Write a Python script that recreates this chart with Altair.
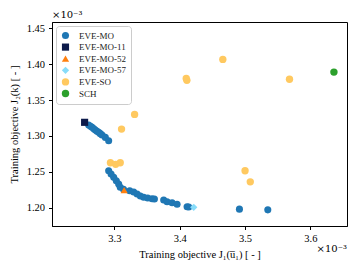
import altair as alt
import pandas as pd

# values in units of 1e-3
mo_x = [3.2607, 3.2635, 3.2659, 3.2685, 3.2709, 3.2735, 3.276, 3.2785, 3.2812, 3.2862, 3.2913,
        3.2913, 3.295, 3.299, 3.303, 3.3066, 3.309, 3.314, 3.3235, 3.3296, 3.3348, 3.3398,
        3.3449, 3.351, 3.3577, 3.3613, 3.3755, 3.3807, 3.3884, 3.396, 3.4113, 3.4138,
        3.4914, 3.5348]
mo_y = [1.3152, 1.3135, 1.312, 1.3100, 1.3082, 1.3066, 1.305, 1.3032, 1.3013, 1.298, 1.2933,
        1.2515, 1.247, 1.2423, 1.2376, 1.233, 1.2284, 1.2256, 1.2237, 1.2219, 1.2191, 1.2163,
        1.2145, 1.2135, 1.2125, 1.2121, 1.2107, 1.2084, 1.207, 1.2047, 1.2014, 1.201,
        1.198, 1.197]
mo11_x = [3.2545]
mo11_y = [1.319]
mo52_x = [3.315]
mo52_y = [1.2245]
mo57_x = [3.4215]
mo57_y = [1.2005]
so_x = [3.466, 3.410, 3.411, 3.568, 3.331, 3.311, 3.294, 3.302, 3.309, 3.500, 3.508]
so_y = [1.4067, 1.380, 1.3775, 1.379, 1.330, 1.3096, 1.2627, 1.2604, 1.2627, 1.2515, 1.236]
sch_x = [3.636]
sch_y = [1.389]

series = ["EVE-MO", "EVE-MO-11", "EVE-MO-52", "EVE-MO-57", "EVE-SO", "SCH"]
colors = ["#1f77b4", "#0c1a4a", "#ff7f0e", "#87dcfa", "#ffc960", "#2ca02c"]
shapes = ["circle", "square", "triangle-up", "diamond", "circle", "circle"]
sizes = [50, 55, 60, 75, 50, 50]

rows = []
for name, xs, ys in [("EVE-MO", mo_x, mo_y), ("EVE-SO", so_x, so_y), ("SCH", sch_x, sch_y),
                     ("EVE-MO-11", mo11_x, mo11_y), ("EVE-MO-52", mo52_x, mo52_y),
                     ("EVE-MO-57", mo57_x, mo57_y)]:
    for i, (x, y) in enumerate(zip(xs, ys)):
        rows.append({"series": name, "J1": x, "J2": y, "order": len(rows)})
df = pd.DataFrame(rows)

FONT = "Liberation Serif"

points = alt.Chart(df).mark_point(filled=True, opacity=1).encode(
    x=alt.X("J1:Q", scale=alt.Scale(domain=[3.2046, 3.656], nice=False, zero=False),
            axis=alt.Axis(values=[3.3, 3.4, 3.5, 3.6], format=".1f",
                          title="Training objective J₁(u̅₁) [ - ]")),
    y=alt.Y("J2:Q", scale=alt.Scale(domain=[1.1745, 1.4588], nice=False, zero=False),
            axis=alt.Axis(values=[1.20, 1.25, 1.30, 1.35, 1.40, 1.45], format=".2f",
                          title="Training objective J₂(k) [ - ]")),
    color=alt.Color("series:N", scale=alt.Scale(domain=series, range=colors),
                    legend=alt.Legend(title=None, orient="top-left")),
    shape=alt.Shape("series:N", scale=alt.Scale(domain=series, range=shapes)),
    size=alt.Size("series:N", scale=alt.Scale(domain=series, range=sizes), legend=None),
    order="order:Q",
)

one = pd.DataFrame({"t": ["×10⁻³"]})
top_off = alt.Chart(one).mark_text(align="left", baseline="bottom", font="DejaVu Serif",
                                   fontSize=10, color="black").encode(
    x=alt.value(0), y=alt.value(-2), text="t:N")
bot_off = alt.Chart(one).mark_text(align="right", baseline="bottom", font="DejaVu Serif",
                                   fontSize=10, color="black").encode(
    x=alt.value(295), y=alt.value(232), text="t:N")

chart = alt.layer(points, top_off, bot_off).properties(
    width=295, height=204,
    autosize=alt.AutoSizeParams(type="none"),
    padding={"left": 44, "top": 14, "right": 4, "bottom": 35},
).configure_view(stroke="black", strokeWidth=1).configure_axis(
    grid=False, domainColor="black", tickColor="black", labelFont=FONT, titleFont=FONT,
    labelFontSize=10.5, titleFontSize=10.5, titleFontWeight="normal", labelColor="black",
    titleColor="black", tickSize=3.5, labelPadding=4,
).configure_axisY(titlePadding=7).configure_axisX(titlePadding=5).configure_legend(
    labelFont=FONT, labelFontSize=9, fillColor="white", strokeColor="#cccccc",
    padding=5, cornerRadius=3, symbolSize=45, rowPadding=1.6, offset=4,
    symbolStrokeWidth=0, labelOffset=9, labelColor="#222222",
)

chart.save("out.html", embed_options={"renderer": "svg", "actions": False})
